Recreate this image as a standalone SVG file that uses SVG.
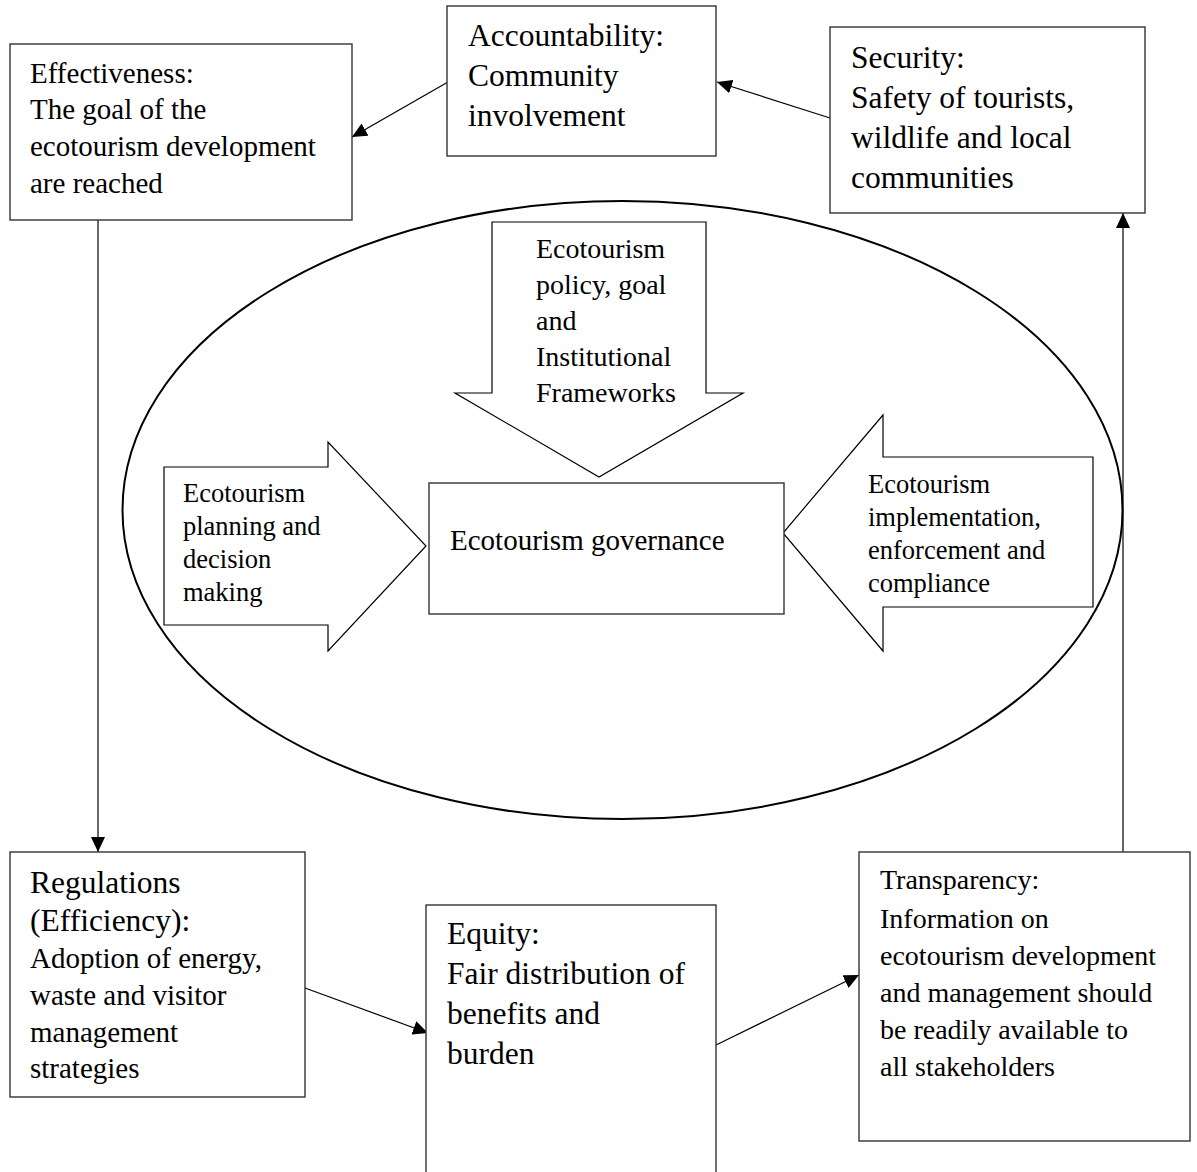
<svg xmlns="http://www.w3.org/2000/svg" width="1197" height="1172" viewBox="0 0 1197 1172">
<style>
.box{fill:#fff;stroke:#333;stroke-width:1.4}
.shape{fill:#fff;stroke:#000;stroke-width:1.2}
.ell{fill:none;stroke:#000;stroke-width:2}
.conn{stroke:#000;stroke-width:1.2;fill:none}
text{font-family:"Liberation Serif","Times New Roman",serif;fill:#000}
.t29{font-size:29px}
.t31{font-size:31.5px}
.t28{font-size:28px}
.t26{font-size:26.5px}
</style>
<defs>
<marker id="ah" markerUnits="userSpaceOnUse" markerWidth="16" markerHeight="14" refX="15" refY="7" orient="auto">
<path d="M0,0 L15,7 L0,14 z" fill="#000"/>
</marker>
</defs>
<rect width="1197" height="1172" fill="#fff"/>
<g id="ellipse"><ellipse class="ell" cx="622.5" cy="510" rx="500" ry="309"/></g>
<g id="connectors">
<line class="conn" x1="830" y1="118" x2="717" y2="82" marker-end="url(#ah)"/>
<line class="conn" x1="448" y1="82" x2="352" y2="137" marker-end="url(#ah)"/>
<line class="conn" x1="98" y1="220" x2="98" y2="852" marker-end="url(#ah)"/>
<line class="conn" x1="305" y1="988" x2="428" y2="1033" marker-end="url(#ah)"/>
<line class="conn" x1="716" y1="1045" x2="859" y2="975" marker-end="url(#ah)"/>
<line class="conn" x1="1123" y1="852" x2="1123" y2="213" marker-end="url(#ah)"/>
</g>
<g id="effectiveness">
<rect class="box" x="10" y="44" width="342" height="176"/>
<text class="t29" x="30" y="83">Effectiveness:</text>
<text class="t29" x="30" y="119">The goal of the</text>
<text class="t29" x="30" y="156">ecotourism development</text>
<text class="t29" x="30" y="193">are reached</text>
</g>
<g id="accountability">
<rect class="box" x="447" y="6" width="269" height="150"/>
<text class="t31" x="468" y="46">Accountability:</text>
<text class="t31" x="468" y="86">Community</text>
<text class="t31" x="468" y="126">involvement</text>
</g>
<g id="security">
<rect class="box" x="830" y="27" width="315" height="186"/>
<text class="t31" x="851" y="68">Security:</text>
<text class="t31" x="851" y="108">Safety of tourists,</text>
<text class="t31" x="851" y="148">wildlife and local</text>
<text class="t31" x="851" y="188">communities</text>
</g>
<g id="policy">
<polygon class="shape" points="492,222 706,222 706,393 743,393 599,477 455,393 492,393"/>
<text class="t28" x="536" y="258">Ecotourism</text>
<text class="t28" x="536" y="294">policy, goal</text>
<text class="t28" x="536" y="330">and</text>
<text class="t28" x="536" y="366">Institutional</text>
<text class="t28" x="536" y="402">Frameworks</text>
</g>
<g id="planning">
<polygon class="shape" points="164,467 328,467 328,442 426,546 328,651 328,625 164,625"/>
<text class="t26" x="183" y="502">Ecotourism</text>
<text class="t26" x="183" y="535">planning and</text>
<text class="t26" x="183" y="568">decision</text>
<text class="t26" x="183" y="601">making</text>
</g>
<g id="implementation">
<polygon class="shape" points="1093,457 883,457 883,415 783,533 883,651 883,607 1093,607"/>
<text class="t26" x="868" y="493">Ecotourism</text>
<text class="t26" x="868" y="526">implementation,</text>
<text class="t26" x="868" y="559">enforcement and</text>
<text class="t26" x="868" y="592">compliance</text>
</g>
<g id="governance">
<rect class="box" x="429" y="483" width="355" height="131"/>
<text class="t29" x="450" y="550">Ecotourism governance</text>
</g>
<g id="regulations">
<rect class="box" x="10" y="852" width="295" height="245"/>
<text class="t31" x="30" y="893">Regulations</text>
<text class="t31" x="30" y="931">(Efficiency):</text>
<text class="t29" x="30" y="968">Adoption of energy,</text>
<text class="t29" x="30" y="1005">waste and visitor</text>
<text class="t29" x="30" y="1042">management</text>
<text class="t29" x="30" y="1078">strategies</text>
</g>
<g id="equity">
<rect class="box" x="426" y="905" width="290" height="280"/>
<text class="t31" x="447" y="944">Equity:</text>
<text class="t31" x="447" y="984">Fair distribution of</text>
<text class="t31" x="447" y="1024">benefits and</text>
<text class="t31" x="447" y="1064">burden</text>
</g>
<g id="transparency">
<rect class="box" x="859" y="852" width="331" height="289"/>
<text class="t28" x="880" y="889">Transparency:</text>
<text class="t28" x="880" y="928">Information on</text>
<text class="t28" x="880" y="965">ecotourism development</text>
<text class="t28" x="880" y="1002">and management should</text>
<text class="t28" x="880" y="1039">be readily available to</text>
<text class="t28" x="880" y="1076">all stakeholders</text>
</g>
</svg>
